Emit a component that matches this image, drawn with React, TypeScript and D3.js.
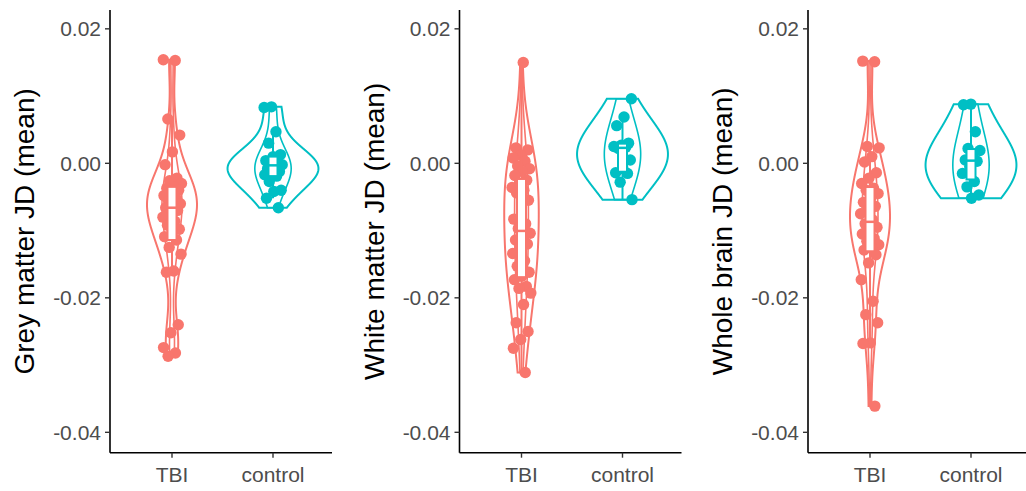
import * as d3 from "d3";

const groups = ["TBI", "control"];
const yTicks = [0.02, 0, -0.02, -0.04];
const titles = ["Grey matter JD (mean)", "White matter JD (mean)", "Whole brain JD (mean)"];

const greyTBI = [0.0154, 0.0153, 0.0066, 0.0042, 0.0017, -0.0002, -0.0022, -0.0026, -0.003, -0.0035, -0.0037, -0.004, -0.0044, -0.0048, -0.0052, -0.0056, -0.006, -0.0063, -0.0066, -0.007, -0.0075, -0.008, -0.0086, -0.0092, -0.0098, -0.0104, -0.0109, -0.0114, -0.0125, -0.0135, -0.016, -0.0162, -0.024, -0.0252, -0.0274, -0.0282, -0.0287];
const greyControl = [0.0084, 0.0083, 0.0047, 0.003, 0.0013, 0.001, 0.0004, 0.0002, 0, -0.0002, -0.0003, -0.0008, -0.0012, -0.0014, -0.0017, -0.0019, -0.0027, -0.004, -0.0042, -0.0052, -0.0066];
const whiteTBI = [0.015, 0.0023, 0.002, 0.0012, 0.0008, 0.0003, -0.0004, -0.0008, -0.0012, -0.0018, -0.0025, -0.003, -0.0036, -0.004, -0.0044, -0.0055, -0.0078, -0.0083, -0.009, -0.0097, -0.0104, -0.011, -0.0114, -0.012, -0.0126, -0.0134, -0.0145, -0.0153, -0.0162, -0.0168, -0.0173, -0.0183, -0.0186, -0.0193, -0.021, -0.0237, -0.025, -0.0262, -0.0275, -0.0311];
const whiteControl = [0.0096, 0.0069, 0.0056, 0.003, 0.0027, 0.0025, 0.0024, 0.0022, 0.0005, -0.0008, -0.0014, -0.0015, -0.0028, -0.0054];
const wholeTBI = [0.0152, 0.0151, 0.0025, 0.0023, 0.001, 0.0002, -0.0014, -0.0022, -0.003, -0.0037, -0.004, -0.0045, -0.0052, -0.0058, -0.0064, -0.0069, -0.0075, -0.0084, -0.009, -0.0095, -0.0099, -0.0105, -0.0112, -0.0116, -0.0121, -0.0125, -0.0129, -0.0136, -0.0148, -0.0173, -0.0205, -0.0225, -0.0237, -0.0267, -0.0268, -0.0361];
const wholeControl = [0.0088, 0.0087, 0.0047, 0.0022, 0.0019, 0.0013, 0.0005, 0.0003, -0.0005, -0.0015, -0.0027, -0.0035, -0.0047, -0.0052];

const panels = [
  { title: titles[0], TBI: greyTBI, control: greyControl },
  { title: titles[1], TBI: whiteTBI, control: whiteControl },
  { title: titles[2], TBI: wholeTBI, control: wholeControl },
];

const colors = { TBI: "#F8766D", control: "#00BFC4" };
const axisLeft = [110, 459.5, 808];
// widest half-width of each violin, as a share of the 0.45-band maximum
const violinWidth = [
  { TBI: 0.55, control: 1 },
  { TBI: 0.38, control: 1 },
  { TBI: 0.44, control: 1 },
];
// smoothing multiplier on bw.nrd0
const bwAdjust = { TBI: 1.4, control: 2.3 };
const top = 10;
const bottom = 452.7;
const font = "'Liberation Sans', Arial, sans-serif";

const y = d3.scaleLinear().domain([-0.04303, 0.0228]).range([bottom, top]);

// gaussian kde, bw.nrd0 * adjust, trimmed to the data range (like geom_violin)
function density(values, adjust) {
  const n = values.length;
  const sd = d3.deviation(values);
  const iqr = d3.quantile(values, 0.75) - d3.quantile(values, 0.25);
  const bw = adjust * 0.9 * Math.min(sd, iqr / 1.34) * Math.pow(n, -0.2);
  const [lo, hi] = d3.extent(values);
  const grid = d3.range(512).map(i => lo + (hi - lo) * i / 511);
  return grid.map(t => ({
    v: t,
    d: d3.sum(values, x => Math.exp(-0.5 * ((t - x) / bw) ** 2)) / (n * bw * Math.sqrt(2 * Math.PI)),
  }));
}

function boxStats(values) {
  const q1 = d3.quantile(values, 0.25);
  const q3 = d3.quantile(values, 0.75);
  const med = d3.quantile(values, 0.5);
  const iqr = q3 - q1;
  const hi = d3.max(values.filter(v => v <= q3 + 1.5 * iqr));
  const lo = d3.min(values.filter(v => v >= q1 - 1.5 * iqr));
  return { q1, q3, med, hi, lo };
}

const Panel = ({ p, ax, vw }) => {
  const x = d3.scalePoint().domain(groups).range([ax + 62, ax + 163]);
  const unit = 101;

  return (
    <g>
      {groups.map((g, gi) => {
        const cx = x(g);
        const dens = density(p[g], bwAdjust[g]);
        const w = d3.scaleLinear().domain([0, d3.max(dens, d => d.d)]).range([0, vw[g] * 0.45 * unit]);
        const violin = k => d3.area()
          .x0(d => cx - k * w(d.d))
          .x1(d => cx + k * w(d.d))
          .y(d => y(d.v))(dens);
        const b = boxStats(p[g]);
        const col = colors[g];
        const pts = p[g].map((v, i) => {
          const f = ((i + 1) * 0.6180339 + gi * 0.37 + ax * 0.013) % 1;
          return { x: cx + (f - 0.5) * 2 * 0.095 * unit, y: y(v) };
        });
        return (
          <g key={g}>
            <path d={violin(1)} fill="none" stroke={col} strokeWidth={2} />
            <path d={violin(0.4)} fill="none" stroke={col} strokeWidth={1.6} />
            {pts.map((d, i) => (
              <circle key={i} cx={d.x} cy={d.y} r={5.7} fill={col} />
            ))}
            <line x1={cx} x2={cx} y1={y(b.hi)} y2={y(b.q3)} stroke={col} strokeWidth={2} />
            <line x1={cx} x2={cx} y1={y(b.q1)} y2={y(b.lo)} stroke={col} strokeWidth={2} />
            <rect x={cx - 4.5} width={9} y={y(b.q3)} height={y(b.q1) - y(b.q3)} fill="#fff" stroke={col} strokeWidth={2} />
            <line x1={cx - 4.5} x2={cx + 4.5} y1={y(b.med)} y2={y(b.med)} stroke={col} strokeWidth={2.5} />
          </g>
        );
      })}
      {/* axes */}
      <line x1={ax} x2={ax} y1={top} y2={bottom} stroke="#000" strokeWidth={1.6} />
      <line x1={ax} x2={ax + 222} y1={bottom} y2={bottom} stroke="#000" strokeWidth={1.6} />
      {yTicks.map(t => (
        <g key={t}>
          <line x1={ax - 5} x2={ax} y1={y(t)} y2={y(t)} stroke="#333" strokeWidth={1.4} />
          <text x={ax - 9} y={y(t)} dy="0.36em" textAnchor="end" fontSize={21} fill="#4D4D4D" fontFamily={font}>
            {d3.format(".2f")(t).replace("−", "-")}
          </text>
        </g>
      ))}
      {groups.map(g => (
        <g key={g}>
          <line x1={x(g)} x2={x(g)} y1={bottom} y2={bottom + 5} stroke="#333" strokeWidth={1.4} />
          <text x={x(g)} y={482} textAnchor="middle" fontSize={21} fill="#4D4D4D" fontFamily={font}>{g}</text>
        </g>
      ))}
      <text transform={`translate(${ax - 76},${(top + bottom) / 2}) rotate(-90)`} textAnchor="middle" fontSize={28} fill="#000" fontFamily={font}>
        {p.title}
      </text>
    </g>
  );
};

export default function App() {
  return (
    <svg width={1026} height={491} style={{ position: "absolute", left: 0, top: 0, background: "#fff" }}>
      {panels.map((p, i) => (
        <Panel key={i} p={p} ax={axisLeft[i]} vw={violinWidth[i]} />
      ))}
    </svg>
  );
}
